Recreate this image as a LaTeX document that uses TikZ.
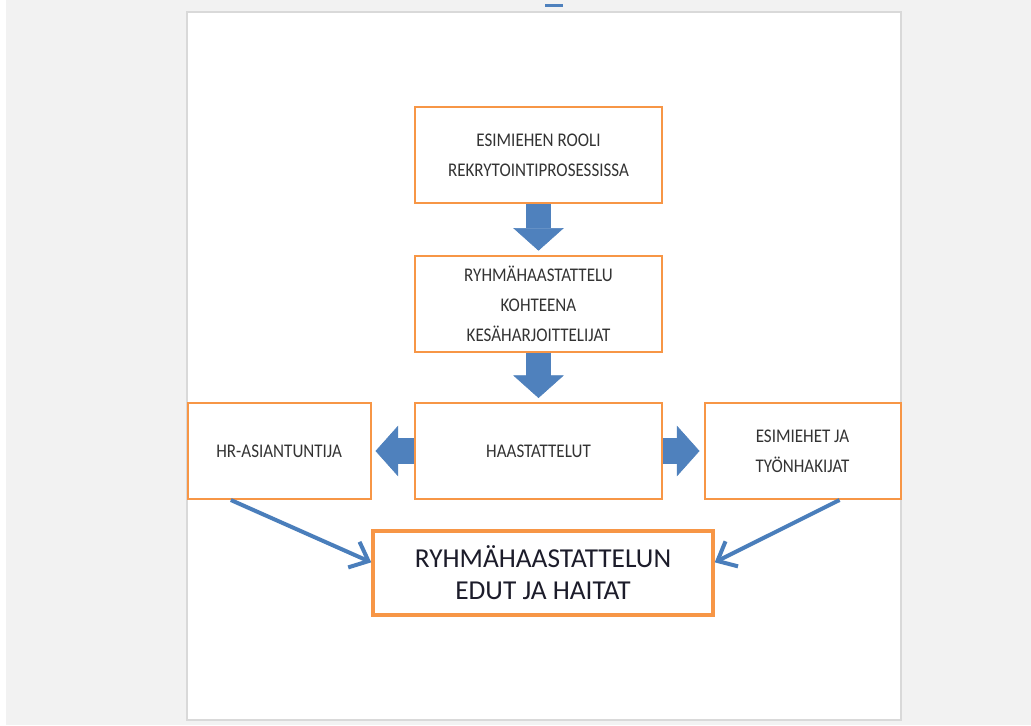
\documentclass[tikz,border=0pt]{standalone}
\usepackage{fontspec}
\setmainfont{Carlito}
\newfontfamily\kapea{Carlito}[FakeStretch=0.88]
\usetikzlibrary{arrows.meta, positioning}
\definecolor{oranssi}{HTML}{F79646}
\definecolor{sininen}{HTML}{4F81BD}
\definecolor{ohutsininen}{HTML}{4A7EBB}
\definecolor{harmaa}{HTML}{333333}
\definecolor{tumma}{HTML}{1C1C2A}
\definecolor{tausta}{HTML}{F2F2F2}
\definecolor{reuna}{HTML}{D9D9D9}

\begin{document}
\begin{tikzpicture}[x=0.75pt, y=-0.75pt,
	laatikko/.style={draw=oranssi, line width=1.5pt, fill=white, inner sep=0pt,
		minimum width=185pt, minimum height=72pt, align=center, text=harmaa,
		font=\kapea\fontsize{14.5}{22.5}\selectfont},
	lohko/.style={sininen, line width=19pt, shorten >=3pt,
		-{Triangle[length=17pt, width=38pt, line width=0.5pt]}},
	linkki/.style={ohutsininen, line width=3pt,
		-{Straight Barb[length=12pt, width=21pt]}}]
		\useasboundingbox (0,0) rectangle (1031,725);
		\fill[tausta] (0,0) rectangle (1031,725);
		\fill[white] (0,0) rectangle (6,725);
		\filldraw[fill=white, draw=reuna, line width=1.5pt] (187,12) rectangle (901,720);
		\fill[sininen] (545,4) rectangle (563,7);

		\node[laatikko] (rooli) at (538.5,155) {ESIMIEHEN ROOLI\\REKRYTOINTIPROSESSISSA};
		\node[laatikko, below=38pt of rooli] (kohde) {RYHMÄHAASTATTELU\\KOHTEENA\\KESÄHARJOITTELIJAT};
		\node[laatikko, below=37pt of kohde] (haast) {HAASTATTELUT};
		\node[laatikko, minimum width=137pt, left=32pt of haast] (hr) {HR-ASIANTUNTIJA};
		\node[laatikko, minimum width=147pt, right=30.5pt of haast] (esim) {ESIMIEHET JA\\TYÖNHAKIJAT};
		\node[draw=oranssi, line width=2.6pt, fill=white, minimum width=255pt, minimum height=63pt,
			align=center, text=tumma, font=\fontsize{20.5}{24}\selectfont] (edut) at (543,573)
			{RYHMÄHAASTATTELUN\\EDUT JA HAITAT};

		\draw[lohko] (rooli) -- (kohde);
		\draw[lohko] (kohde) -- (haast);
		\draw[lohko] (haast) -- (hr);
		\draw[lohko] (haast) -- (esim);

		\draw[linkki] ([xshift=33pt]hr.south west) -- ([yshift=8pt]edut.west);
		\draw[linkki] ([xshift=-46.5pt]esim.south east) -- ([yshift=8pt]edut.east);
\end{tikzpicture}
\end{document}
